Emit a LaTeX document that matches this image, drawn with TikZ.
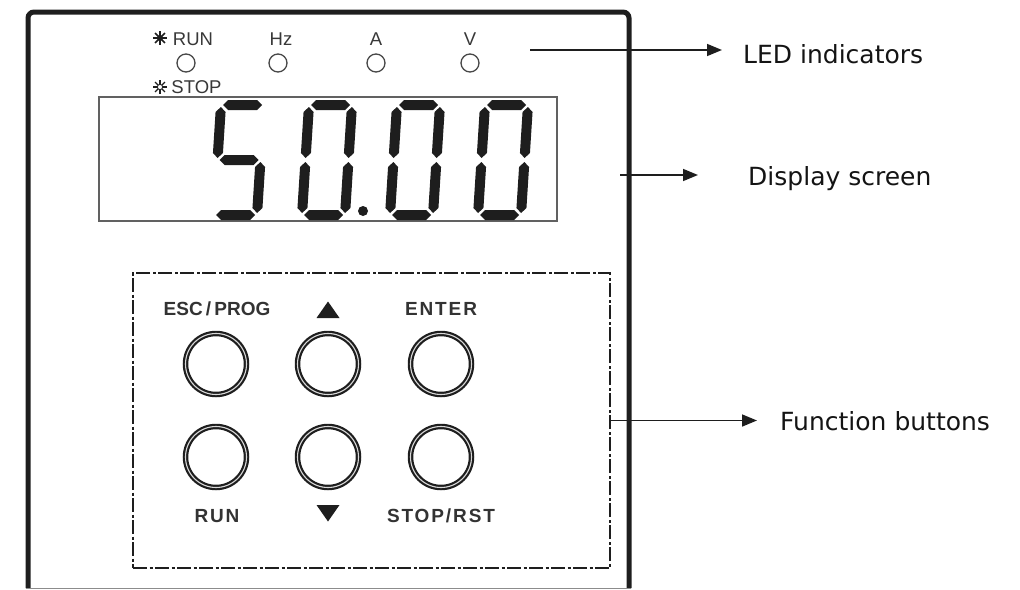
\documentclass[tikz,border=0pt]{standalone}
\usepackage{fontspec}
\setmainfont{Liberation Sans}
\newfontfamily\lblfont{DejaVu Sans}
\usetikzlibrary{arrows.meta}
\definecolor{ink}{HTML}{1E1E1E}
\tikzset{
  panel/.style={line width=5pt, draw=ink, rounded corners=6pt},
  dispbox/.style={draw=black!62, line width=1.3pt, minimum width=458pt, minimum height=124pt, inner sep=0pt},
  seg/.style={fill=ink},
  led/.style={circle, draw=black!72, line width=1.3pt, minimum size=18pt, inner sep=0pt},
  ledtxt/.style={font=\fontsize{18.5}{19}\selectfont, text=black!78, anchor=base, inner sep=0pt},
  btnlbl/.style={font=\bfseries\fontsize{19}{19}\selectfont, text=black!80, anchor=base, inner sep=0pt},
  btn/.style={circle, minimum size=61pt, inner sep=0pt, outer sep=0pt, draw=ink, line width=2.2pt, double=black!15, double distance=1.1pt},
  fbox/.style={draw=ink, line width=1.3pt, dash pattern=on 14pt off 2.5pt on 3pt off 2.5pt, minimum width=477pt, minimum height=295pt, inner sep=0pt},
  arr/.style={-{Triangle[length=15pt,width=12pt]}, line width=1.6pt, draw=ink},
  sidelbl/.style={font=\lblfont\fontsize{25}{25}\selectfont, text=black!92, anchor=base west, inner sep=0pt},
  tri/.style={fill=ink},
}
\newcommand{\hseg}[3]{\fill[seg] ({#1+2},#3) -- ({#1+7},{#3-5}) -- ({#2-7},{#3-5}) -- ({#2-2},#3) -- ({#2-7},{#3+5}) -- ({#1+7},{#3+5}) -- cycle;}
\newcommand{\vseg}[4]{\fill[seg] ({#1-0.1},{#2+2}) -- ({#1+4.55},{#2+7}) -- ({#3+5.45},{#4-7}) -- ({#3+0.1},{#4-2}) -- ({#3-4.55},{#4-7}) -- ({#1-5.45},{#2+7}) -- cycle;}
\newcommand{\digzero}[1]{%
  \hseg{#1+7}{#1+50}{105}
  \hseg{#1}{#1+43}{215}
  \vseg{#1+7}{105}{#1+3.5}{160}
  \vseg{#1+3.5}{160}{#1}{215}
  \vseg{#1+50}{105}{#1+46.5}{160}
  \vseg{#1+46.5}{160}{#1+43}{215}}
\newcommand{\digfive}[1]{%
  \hseg{#1+7}{#1+50}{105}
  \vseg{#1+7}{105}{#1+3.5}{160}
  \hseg{#1+3.5}{#1+46.5}{160}
  \vseg{#1+46.5}{160}{#1+43}{215}
  \hseg{#1}{#1+43}{215}}
\newcommand{\burst}[3]{% x y linewidth
  \foreach \a in {0,45,...,315} {\draw[ink, line width=#3] (#1,#2) -- ++(\a:7);}}
\begin{document}
\begin{tikzpicture}[x=1pt,y=-1pt]
\useasboundingbox (0,0) rectangle (1020,589);
% panel
\draw[panel] (28,588) -- (28,12) -- (629,12) -- (629,588);
\draw[black!45, line width=0.8pt] (26,588) -- (631,588);
% LED row
\burst{160}{38}{1.6pt}
\fill[ink] (160,38) circle (3);
\node[ledtxt] (trun) at (193,45) {RUN};
\node[ledtxt] (thz) at (281,45) {Hz};
\node[ledtxt] (ta) at (376,45) {A};
\node[ledtxt] (tv) at (470,45) {V};
\node[led] (l1) at (186,63) {};
\node[led] (l2) at (278,63) {};
\node[led] (l3) at (376,63) {};
\node[led] (l4) at (470,63) {};
\burst{160}{87}{1.2pt}
\fill[white] (160,87) circle (2.6);
\draw[ink, line width=0.8pt] (160,87) circle (2.6);
\node[ledtxt] (tstop) at (196.5,93) {STOP};
% display
\node[dispbox] (disp) at (328,159) {};
\digfive{214}
\digzero{302}
\digzero{390}
\digzero{478}
\fill[ink] (363,211) circle (5);
% function box and buttons
\node[fbox] (fb) at (371.5,420.5) {};
\node[btn] (b1) at (216,364) {};
\node[btn] (b2) at (328,364) {};
\node[btn] (b3) at (441,364) {};
\node[btn] (b4) at (216,457) {};
\node[btn] (b5) at (328,457) {};
\node[btn] (b6) at (441,457) {};
\node[btnlbl] (lesc) at (217,315) {ESC\,/\,PROG};
\node[btnlbl] (lent) at (441,315) {\addfontfeature{LetterSpace=10}ENTER};
\node[btnlbl] (lrun) at (217,522) {\addfontfeature{LetterSpace=10}RUN};
\node[btnlbl] (lstp) at (441,522) {\addfontfeature{LetterSpace=10}STOP/RST};
\fill[tri] (316.5,318) -- (339.5,318) -- (328,301.5) -- cycle;
\fill[tri] (316.5,505) -- (339.5,505) -- (328,521.5) -- cycle;
% callouts
\coordinate (ledsrc) at (530,50);
\coordinate (dispsrc) at (620,175);
\node[sidelbl] (ledlbl) at (743,63) {LED indicators};
\node[sidelbl] (displbl) at (748,185) {Display screen};
\node[sidelbl] (fnlbl) at (780,430) {Function buttons};
\draw[arr] (ledsrc) -- (ledsrc -| ledlbl.west) [shorten >=21pt];
\draw[arr] (dispsrc) -- (dispsrc -| displbl.west) [shorten >=50pt];
\draw[arr] (fb.east) -- (fb.east -| fnlbl.west) [shorten >=23pt];
\end{tikzpicture}
\end{document}
